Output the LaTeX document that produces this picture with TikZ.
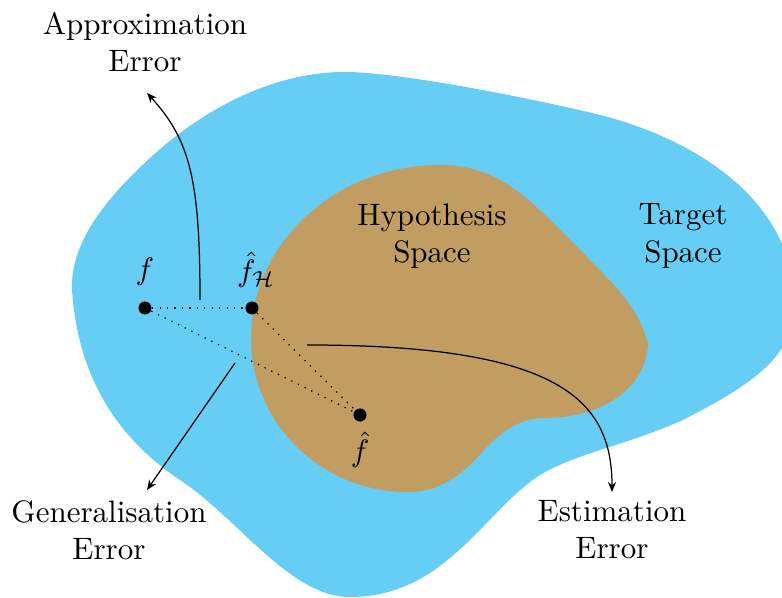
\documentclass[tikz,border=0pt]{standalone}
\usetikzlibrary{arrows.meta}
\definecolor{targetblue}{RGB}{102,205,244}
\definecolor{hypbrown}{RGB}{193,157,98}
\begin{document}
\begin{tikzpicture}[x=0.3226pt,y=-0.3226pt,
  lbl/.style={align=center,font=\normalsize},
  ptlbl/.style={inner sep=0pt},
  pt/.style={circle,fill=black,inner sep=0pt,minimum size=4.2pt},
  arr/.style={-{Stealth[length=3.2pt,width=2.6pt]},line width=0.4pt},
  dots/.style={dotted,line width=0.4pt}]
\useasboundingbox (0,0) rectangle (782,598);
\begin{scope}
\clip (0,0) rectangle (782,598);
\fill[targetblue] (72,290)
  .. controls (70,240) and (110,195) .. (150,158)
  .. controls (200,112) and (270,72) .. (345,72)
  .. controls (400,72) and (540,100) .. (600,115)
  .. controls (680,135) and (790,190) .. (795,300)
  .. controls (798,360) and (740,390) .. (683,420)
  .. controls (620,448) and (565,455) .. (530,482)
  .. controls (480,520) and (440,597) .. (350,597)
  .. controls (290,597) and (240,520) .. (180,480)
  .. controls (120,440) and (78,380) .. (72,290) -- cycle;
\fill[hypbrown] (440,165)
  .. controls (500,165) and (530,200) .. (575,245)
  .. controls (620,290) and (640,310) .. (648,345)
  .. controls (645,390) and (600,418) .. (545,418)
  .. controls (515,418) and (495,437) .. (475,460)
  .. controls (450,485) and (430,492) .. (407,492)
  .. controls (322,492) and (252,424) .. (251,340)
  .. controls (250,244) and (335,165) .. (440,165) -- cycle;
\end{scope}
\node[pt] (f) at (145,308) {};
\node[pt] (fH) at (252,308) {};
\node[pt] (fh) at (360,415) {};
\node[ptlbl] (lf) at (145,272) {$f$};
\node[ptlbl] (lfH) at (256,270) {$\hat{f}_{\mathcal{H}}$};
\node[ptlbl] (lfh) at (360,450) {$\hat{f}$};
\draw[dots] (f) -- (fH);
\draw[dots] (f) -- (fh);
\draw[dots] (fH) -- (fh);
\node[lbl] (approx) at (145,42) {Approximation\\Error};
\node[lbl] (gen) at (109,530) {Generalisation\\Error};
\node[lbl] (est) at (612,530) {Estimation\\Error};
\node[lbl] (hyp) at (432,236) {Hypothesis\\Space};
\node[lbl] (tgt) at (683,236) {Target\\Space};
\coordinate (a0) at (200,300);
\coordinate (a1) at (147,93);
\coordinate (g0) at (235,363);
\coordinate (g1) at (147,490);
\coordinate (e0) at (307,345);
\coordinate (e1) at (612,492);
\draw[arr] (a0) .. controls (200,180) and (190,140) .. (a1);
\draw[arr] (g0) -- (g1);
\draw[arr] (e0) .. controls (560,345) and (612,400) .. (e1);
\end{tikzpicture}
\end{document}
